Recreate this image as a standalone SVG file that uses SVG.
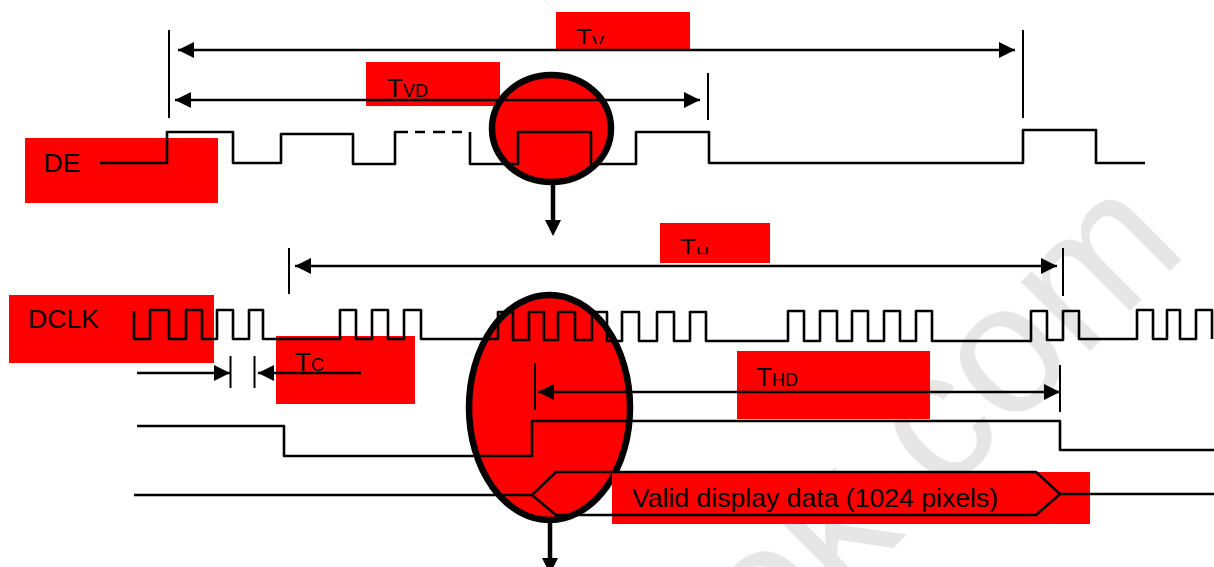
<svg xmlns="http://www.w3.org/2000/svg" width="1214" height="567" viewBox="0 0 1214 567">
<style>
.t{font-family:"Liberation Sans",Arial,sans-serif;fill:#000}
.m{font-size:26px}.s{font-size:18px}.l{font-size:26.600px}
.w{fill:none;stroke:#000;stroke-width:2.600;stroke-linejoin:round}
.d{fill:none;stroke:#000;stroke-width:2.600}
.th{fill:none;stroke:#000;stroke-width:2}
.v{fill:none;stroke:#000;stroke-width:4.500}
.r{fill:#f00}
.c{fill:#f00;stroke:#000;stroke-width:6.500}
.ah{fill:#000}
.wm{font-family:"Liberation Sans",Arial,sans-serif;font-size:185px;fill:#e6e6e6}
</style>
<defs>
<marker id="a" markerUnits="userSpaceOnUse" markerWidth="16" markerHeight="16" refX="16" refY="8" orient="auto-start-reverse"><path class="ah" d="M0,0L16,8L0,16Z"/></marker>
<clipPath id="cv"><rect x="556" y="12" width="134" height="32"/></clipPath>
<clipPath id="ch"><rect x="660" y="223" width="110" height="31"/></clipPath>
</defs>
<rect width="1214" height="567" fill="#fff"/>
<text id="watermark" class="wm" transform="translate(841,600) rotate(-45)"><tspan x="-103">o</tspan><tspan x="0">k.com</tspan></text>
<g id="label-tv"><rect class="r" x="556" y="12" width="134" height="39"/><text class="t" clip-path="url(#cv)" x="576" y="47"><tspan class="m">T</tspan><tspan class="s" dy="2">V</tspan></text></g>
<g id="label-tvd"><rect class="r" x="366" y="62" width="134" height="44"/><text class="t" x="387" y="97"><tspan class="m">T</tspan><tspan class="s">VD</tspan></text></g>
<g id="label-de"><rect class="r" x="25" y="138" width="193" height="65"/><text class="t l" x="43.500" y="172">DE</text></g>
<g id="highlight-top"><ellipse class="c" cx="551.500" cy="128.500" rx="59.500" ry="53.500"/></g>
<g id="label-th"><rect class="r" x="660" y="223" width="110" height="40"/><text class="t" clip-path="url(#ch)" x="680" y="257"><tspan class="m">T</tspan><tspan class="s" dy="3">H</tspan></text></g>
<g id="label-dclk"><rect class="r" x="9" y="295" width="205" height="68"/><text class="t l" x="28" y="328">DCLK</text></g>
<g id="label-tc"><rect class="r" x="276" y="336" width="139" height="68"/><text class="t" x="295" y="371"><tspan class="m">T</tspan><tspan class="s">C</tspan></text></g>
<g id="label-thd"><rect class="r" x="737" y="351" width="193" height="68"/><text class="t" x="756" y="386"><tspan class="m">T</tspan><tspan class="s">HD</tspan></text></g>
<g id="highlight-bottom"><ellipse class="c" cx="549.500" cy="407.500" rx="80.500" ry="112.500"/></g>
<g id="label-valid"><rect class="r" x="612" y="472" width="478" height="52"/></g>
<g id="connectors">
<path class="w" d="M100,163H167V132H233V163H281V134H353V164H395V132H408"/>
<path class="d" d="M415,132H425M433,132H445M452,132H462"/>
<path class="w" d="M470,132V164H518V132H591V164H636V132H709V163H1023V130H1096V163H1145"/>
<path class="th" d="M169,30V118M1023,30V118M708,73V120M289,248V294M1063,248V296M230.500,356V388M254.500,356V388M535,363V410M1060,365V412"/>
<path class="d" marker-start="url(#a)" marker-end="url(#a)" d="M178,50H1015"/>
<path class="d" marker-start="url(#a)" marker-end="url(#a)" d="M175,100H700"/>
<path class="d" marker-start="url(#a)" marker-end="url(#a)" d="M295,266H1057"/>
<path class="d" marker-end="url(#a)" d="M137,373H230"/>
<path class="d" marker-end="url(#a)" d="M361,373H258"/>
<path class="d" marker-start="url(#a)" marker-end="url(#a)" d="M538,392H1060"/>
<path class="w" d="M134,311V339H150V310H169V339H186V310H202V339H217V310H233V339H249V310H263V339H340V310H356V339H372V310H388V339H404V310H421V339H498V312H513V340H529V312H544V340H558V312H575V340H592V312H607V341H622V312H639V341H657V312H674V341H690V312H706V341H788V311H804V341H820V311H837V341H852V311H868V341H884V311H900V341H916V311H932V341H1031V311H1047V340H1063V311H1079V339H1137V310H1153V339H1167V310H1180V339H1196V310H1212V339"/>
<path class="w" d="M137,426H284V456H532V421H1060V450H1214"/>
<path class="w" d="M134,495H532L556,472H1036L1060,494L1036,515H556L532,495M1060,494H1214"/>
<path class="v" d="M553,185V222"/><path class="ah" d="M545,220H561L553,236Z"/>
<path class="v" d="M550,523V560"/><path class="ah" d="M542,558H558L550,574Z"/>
</g>
<text id="label-valid-text" class="t l" x="632" y="507">Valid display data (1024 pixels)</text>
</svg>
